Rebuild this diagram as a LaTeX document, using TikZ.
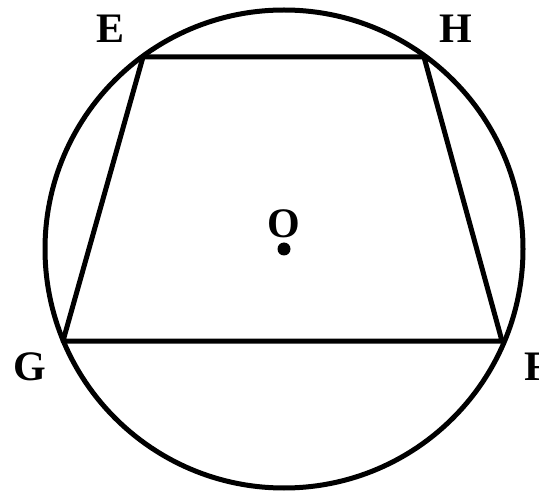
\documentclass[tikz,border=0pt]{standalone}
\usepackage{fontspec}
\setmainfont{Liberation Serif}
\usepackage{tikz}
\usetikzlibrary{positioning,calc}
\tikzset{lbl/.style={font=\fontsize{42}{46}\selectfont\bfseries, inner sep=0pt}, side/.style={line width=5pt, line join=round}, rim/.style={line width=5pt}}

\begin{document}
\begin{tikzpicture}[x=1pt, y=-1pt]
\useasboundingbox (0,0) rectangle (539,492);
\coordinate (O) at (284,249);
\coordinate (E) at (143,57);
\coordinate (H) at (424,57);
\coordinate (F) at (502,341);
\coordinate (G) at (63,341);
\draw[rim] (O) circle[radius=239];
\draw[side] (E) -- (H) -- (F) -- (G) -- cycle;
\fill (O) circle[radius=6.5];
\node[lbl] (lE) at (111,29) {E};
\node[lbl] (lH) at (456,29) {H};
\node[lbl] (lG) at (30,367) {G};
\node[lbl] (lF) at (537,367) {F};
\node[lbl] (lO) at (284,224) {O};
\end{tikzpicture}
\end{document}
